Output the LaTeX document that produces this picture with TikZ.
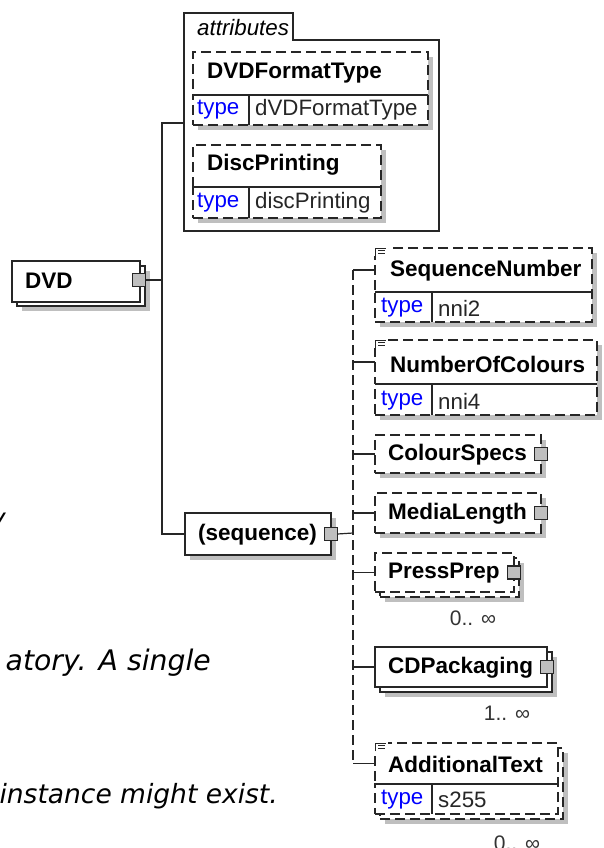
\documentclass[tikz,border=0pt]{standalone}
\usepackage{fontspec}
\setmainfont{Liberation Sans}
\newfontfamily\verd{DejaVu Sans}
\newcommand\mkbox[6]{\node[bx,#1,minimum width={(#5)-(#3)},minimum height={(#6)-(#4)}] (#2) at (#3,#4) {};}
\newcommand\mkshd[4]{\fill[shd] ({#1+5},{#2+5}) rectangle ({#3+5},{#4+5});}
\newcommand\docicon[2]{%
  \fill[white] ({#1-1},{#2-2}) rectangle ({#1+13},{#2+9});
  \draw[line width=1pt,black!85] ({#1},{#2+9}) -- ({#1},{#2+1}) -- ({#1+11},{#2+1});
  \draw[line width=0.8pt,black!85] ({#1+3},{#2+3.5}) -- ({#1+10},{#2+3.5}) ({#1+3},{#2+6}) -- ({#1+10},{#2+6});}
\begin{document}
\begin{tikzpicture}[x=1pt,y=-1pt,
 ln/.style={line width=1.2pt, draw=black!85},
 dsh/.style={line width=1.2pt, draw=black!85, dash pattern=on 10pt off 5pt},
 bx/.style={anchor=north west, inner sep=0pt, outer sep=0pt, fill=white},
 shd/.style={fill=black!25},
 sq/.style={draw=black!85, line width=1.1pt, fill=black!25, minimum size=13pt, inner sep=0pt, outer sep=0pt},
 nm/.style={font=\fontsize{22.5}{24}\selectfont\bfseries, anchor=west, inner sep=0pt},
 tp/.style={font=\fontsize{22.3}{24}\selectfont, text=blue, anchor=west, inner sep=0pt},
 tv/.style={font=\fontsize{22.3}{24}\selectfont, text=black!85, anchor=west, inner sep=0pt},
 occ/.style={font=\fontsize{21}{24}\selectfont, text=black!80, inner sep=0pt},
 note/.style={font=\verd\itshape\fontsize{26.5}{30}\selectfont, inner sep=0pt, anchor=base east}]
\useasboundingbox (0,0) rectangle (603,848);

% left notes
\node[note] (n1) at (6,527) {y};
\node[note, font=\verd\itshape\fontsize{28.3}{30}\selectfont] (n2) at (211,670) {atory. A single};
\node[note] (n3) at (278,803) {instance might exist.};

% DVD
\mkshd{17}{266}{145}{306}
\mkbox{draw,ln}{dvdback}{17}{266}{145}{306}
\mkbox{draw,ln}{dvd}{12}{261}{140}{302}
\node[nm] (dvdt) at (25,281) {DVD};
\node[sq] (dvdsq) at (139,280) {};

% attributes container
\draw[ln] (184,13) -- (293,13) -- (293,40) -- (439,40) -- (439,231) -- (184,231) -- cycle;
\node[font=\fontsize{22.3}{24}\selectfont\itshape, anchor=west, inner sep=0pt] (attrt) at (197,28) {attributes};
\coordinate (attrIn) at (184,123);

% DVDFormatType
\mkshd{193}{52}{428}{125}
\mkbox{dsh}{fmtN}{193}{52}{428}{95}
\mkbox{dsh}{fmtT}{193}{95}{428}{125}
\draw[ln] (fmtN.south west) -- (fmtN.south east);
\draw[ln] (249,95) -- (249,125);
\node[nm] (fmtt) at (207,73) {DVDFormatType};
\node[tp] (fmttp) at (197,110) {type};
\node[tv] (fmttv) at (255,110) {dVDFormatType};

% DiscPrinting
\mkshd{193}{145}{381}{218}
\mkbox{dsh}{dpN}{193}{145}{381}{187}
\mkbox{dsh}{dpT}{193}{187}{381}{218}
\draw[ln] (dpN.south west) -- (dpN.south east);
\draw[ln] (249,187) -- (249,218);
\node[nm] (dpt) at (207,165) {DiscPrinting};
\node[tp] (dptp) at (197,203) {type};
\node[tv] (dptv) at (255,203) {discPrinting};

% sequence
\mkshd{185}{513}{331}{555}
\mkbox{draw,ln}{seq}{185}{513}{331}{555}
\node[nm] (seqt) at (198,535) {(sequence)};
\node[sq] (seqsq) at (seq.east) {};

% DVD trunk
\coordinate (tTop) at (162,123);
\draw[ln] (dvdsq.east) -- (dvdsq.east -| tTop);
\draw[ln] (attrIn) -- (tTop) -- (seq.west -| tTop) -- (seq.west);

% SequenceNumber
\mkshd{375}{248}{592}{322}
\mkbox{dsh}{snN}{375}{248}{592}{292}
\mkbox{dsh}{snT}{375}{292}{592}{322}
\draw[ln] (snN.south west) -- (snN.south east);
\draw[ln] (432,292) -- (432,322);
\docicon{375}{247}
\node[nm] (snt) at (390,271) {SequenceNumber};
\node[tp] (sntp) at (381,308) {type};
\node[tv] (sntv) at (438,308) {nni2};

% NumberOfColours
\mkshd{375}{340}{597}{415}
\mkbox{dsh}{ncN}{375}{340}{597}{384}
\mkbox{dsh}{ncT}{375}{384}{597}{415}
\draw[ln] (ncN.south west) -- (ncN.south east);
\draw[ln] (432,384) -- (432,415);
\docicon{375}{339}
\node[nm] (nct) at (390,364) {NumberOfColours};
\node[tp] (nctp) at (381,401) {type};
\node[tv] (nctv) at (438,401) {nni4};

% ColourSpecs
\mkshd{375}{435}{541}{473}
\mkbox{dsh}{cs}{375}{435}{541}{473}
\node[nm] (cst) at (388,455) {ColourSpecs};
\node[sq] (cssq) at (cs.east) {};

% MediaLength
\mkshd{375}{493}{541}{533}
\mkbox{dsh}{ml}{375}{493}{541}{533}
\node[nm] (mlt) at (388,514) {MediaLength};
\node[sq] (mlsq) at (ml.east) {};

% PressPrep
\mkshd{380}{558}{519}{597}
\mkbox{dsh}{ppback}{380}{558}{519}{597}
\mkbox{dsh}{pp}{375}{553}{514}{592}
\node[nm] (ppt) at (388,573) {PressPrep};
\node[sq] (ppsq) at (pp.east) {};
\node[occ] (ppocc) at (473,618) {0.. ∞};

% CDPackaging
\mkshd{380}{652}{552}{692}
\mkbox{draw,ln}{cdback}{380}{652}{552}{692}
\mkbox{draw,ln}{cd}{375}{647}{547}{687}
\node[nm] (cdt) at (388,668) {CDPackaging};
\node[sq] (cdsq) at (cd.east) {};
\node[occ] (cdocc) at (507,713) {1.. ∞};

% AdditionalText
\mkshd{380}{748}{563}{819}
\mkbox{dsh}{atback}{380}{748}{563}{819}
\mkbox{dsh}{atN}{375}{743}{558}{784}
\mkbox{dsh}{atT}{375}{784}{558}{814}
\draw[ln] (atN.south west) -- (atN.south east);
\draw[ln] (432,784) -- (432,814);
\docicon{375}{742}
\node[nm] (att) at (388,764) {AdditionalText};
\node[tp] (attp) at (381,800) {type};
\node[tv] (attv) at (438,800) {s255};
\node[occ] (atocc) at (517,843) {0.. ∞};

% sequence trunk
\coordinate (sX) at (353,533);
\draw[ln] (seqsq.east) -- (sX);
\draw[dsh] (snN.west -| sX) -- (atN.west -| sX);
\foreach \n in {snN,ncN,cs,ml,pp,cd,atN} \draw[ln] (\n.west -| sX) -- (\n.west);
\end{tikzpicture}
\end{document}
